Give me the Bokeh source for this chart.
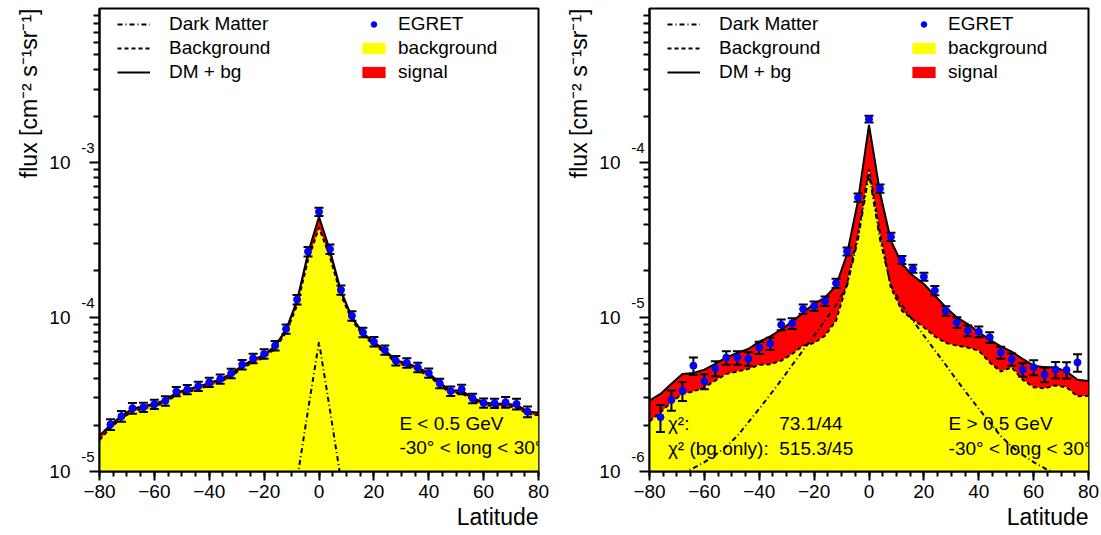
from bokeh.plotting import figure
from bokeh.layouts import row
from bokeh.models import (ColumnDataSource, Label, Legend, LegendItem, FixedTicker,
                          Range1d, CustomJSTickFormatter, LogAxis, Title)
from bokeh.embed import file_html
from bokeh.resources import INLINE

FONT = "Liberation Sans"

# ---------------- data ----------------
model_lat = list(range(-80, 81, 4))      # 41 model sample latitudes
egret_lat = list(range(-76, 77, 4))      # 39 EGRET data latitudes
x_ticks = [-80, -60, -40, -20, 0, 20, 40, 60, 80]

# Left panel: E < 0.5 GeV
left_egret = [2.02e-5, 2.28e-5, 2.57e-5, 2.61e-5, 2.73e-5, 2.87e-5, 3.30e-5, 3.40e-5,
              3.57e-5, 3.79e-5, 3.98e-5, 4.33e-5, 4.93e-5, 5.41e-5, 5.78e-5, 6.54e-5,
              8.39e-5, 1.30e-4, 2.66e-4, 4.82e-4, 2.76e-4, 1.50e-4, 1.02e-4, 7.98e-5,
              6.94e-5, 6.13e-5, 5.23e-5, 5.06e-5, 4.73e-5, 4.35e-5, 3.73e-5, 3.32e-5,
              3.41e-5, 2.98e-5, 2.78e-5, 2.77e-5, 2.81e-5, 2.74e-5, 2.44e-5]
left_err = [0.08, 0.08, 0.08, 0.07, 0.07, 0.07, 0.07, 0.07, 0.07, 0.07, 0.07, 0.07, 0.07,
            0.07, 0.07, 0.07, 0.07, 0.07, 0.07, 0.06, 0.07, 0.07, 0.07, 0.07, 0.07, 0.07,
            0.07, 0.07, 0.07, 0.07, 0.07, 0.07, 0.07, 0.07, 0.07, 0.07, 0.08, 0.08, 0.08]
left_total = [1.71e-5, 2.00e-5, 2.30e-5, 2.55e-5, 2.65e-5, 2.75e-5, 2.90e-5, 3.25e-5,
              3.40e-5, 3.55e-5, 3.75e-5, 3.95e-5, 4.30e-5, 4.85e-5, 5.30e-5, 5.70e-5,
              6.50e-5, 8.30e-5, 1.28e-4, 2.60e-4, 4.47e-4, 2.70e-4, 1.48e-4, 1.00e-4,
              7.90e-5, 6.90e-5, 6.10e-5, 5.25e-5, 5.05e-5, 4.70e-5, 4.35e-5, 3.75e-5,
              3.35e-5, 3.35e-5, 3.00e-5, 2.80e-5, 2.75e-5, 2.75e-5, 2.70e-5, 2.45e-5, 2.40e-5]
left_bg = [1.60e-5, 1.92e-5, 2.21e-5, 2.45e-5, 2.55e-5, 2.65e-5, 2.79e-5, 3.13e-5,
           3.27e-5, 3.42e-5, 3.61e-5, 3.80e-5, 4.14e-5, 4.67e-5, 5.10e-5, 5.48e-5,
           6.25e-5, 7.95e-5, 1.19e-4, 2.35e-4, 3.80e-4, 2.45e-4, 1.39e-4, 9.60e-5,
           7.60e-5, 6.64e-5, 5.87e-5, 5.05e-5, 4.86e-5, 4.52e-5, 4.19e-5, 3.61e-5,
           3.22e-5, 3.22e-5, 2.89e-5, 2.70e-5, 2.65e-5, 2.65e-5, 2.60e-5, 2.36e-5, 2.31e-5]
left_dm_lat = [-12, -8, -4, 0, 4, 8, 12]
left_dm = [3.2e-6, 8.8e-6, 2.5e-5, 6.9e-5, 2.5e-5, 8.8e-6, 3.2e-6]
left_yticks = [1e-5, 1e-4, 1e-3]
left_exps = ["-5", "-4", "-3"]

# Right panel: E > 0.5 GeV
right_egret = [2.25e-6, 2.91e-6, 3.33e-6, 4.85e-6, 3.84e-6, 4.66e-6, 5.47e-6, 5.47e-6,
               5.38e-6, 6.35e-6, 6.74e-6, 8.93e-6, 9.12e-6, 1.13e-5, 1.18e-5, 1.27e-5,
               1.66e-5, 2.67e-5, 5.96e-5, 1.92e-4, 6.82e-5, 3.32e-5, 2.35e-5, 2.06e-5,
               1.83e-5, 1.49e-5, 1.10e-5, 9.25e-6, 8.18e-6, 8.05e-6, 7.40e-6, 5.91e-6,
               5.33e-6, 4.57e-6, 4.73e-6, 4.25e-6, 4.57e-6, 4.55e-6, 5.09e-6]
right_err = [0.20, 0.15, 0.14, 0.13, 0.11, 0.11, 0.10, 0.10, 0.10, 0.09, 0.09, 0.08, 0.08,
             0.07, 0.07, 0.07, 0.07, 0.06, 0.06, 0.05, 0.06, 0.06, 0.06, 0.06, 0.06, 0.07,
             0.07, 0.08, 0.08, 0.08, 0.08, 0.09, 0.09, 0.10, 0.11, 0.11, 0.12, 0.12, 0.13]
right_total = [2.88e-6, 3.18e-6, 3.70e-6, 4.29e-6, 4.35e-6, 4.57e-6, 4.98e-6, 5.49e-6,
               5.86e-6, 6.22e-6, 6.94e-6, 7.51e-6, 8.30e-6, 9.35e-6, 1.07e-5, 1.22e-5,
               1.34e-5, 1.60e-5, 2.56e-5, 5.68e-5, 1.76e-4, 6.43e-5, 3.13e-5, 2.21e-5,
               1.86e-5, 1.64e-5, 1.38e-5, 1.16e-5, 9.97e-6, 9.03e-6, 7.98e-6, 7.15e-6,
               6.47e-6, 5.98e-6, 5.36e-6, 4.85e-6, 4.73e-6, 4.73e-6, 4.44e-6, 3.93e-6, 3.86e-6]
right_bg = [2.11e-6, 2.42e-6, 2.81e-6, 3.18e-6, 3.30e-6, 3.51e-6, 3.88e-6, 4.29e-6,
            4.44e-6, 4.62e-6, 4.91e-6, 4.95e-6, 5.22e-6, 5.78e-6, 6.54e-6, 6.80e-6,
            7.60e-6, 9.50e-6, 1.65e-5, 3.40e-5, 9.10e-5, 3.50e-5, 1.55e-5, 1.10e-5,
            9.63e-6, 8.60e-6, 7.51e-6, 6.81e-6, 6.54e-6, 6.35e-6, 6.07e-6, 5.09e-6,
            4.44e-6, 4.73e-6, 3.94e-6, 3.51e-6, 3.46e-6, 3.61e-6, 3.51e-6, 3.07e-6, 3.10e-6]
right_dm = [7.8e-7, 8.4e-7, 9.0e-7, 9.7e-7, 1.05e-6, 1.15e-6, 1.28e-6, 1.45e-6,
            1.70e-6, 2.08e-6, 2.55e-6, 3.15e-6, 3.90e-6, 4.90e-6, 6.10e-6, 7.60e-6,
            9.50e-6, 1.20e-5, 1.60e-5, 3.20e-5, 8.50e-5, 3.20e-5, 1.60e-5, 1.20e-5,
            9.50e-6, 7.60e-6, 6.10e-6, 4.90e-6, 3.90e-6, 3.15e-6, 2.55e-6, 2.08e-6,
            1.70e-6, 1.45e-6, 1.28e-6, 1.15e-6, 1.05e-6, 9.7e-7, 9.0e-7, 8.4e-7, 7.8e-7]
right_yticks = [1e-6, 1e-5, 1e-4]
right_exps = ["-6", "-5", "-4"]

Y_TITLE = "flux [cm\u207b\u00b2 s\u207b\u00b9sr\u207b\u00b9]"
X_TITLE = "Latitude"


def plain_axis(ax):
    ax.axis_line_color = None
    ax.major_tick_line_color = None
    ax.minor_tick_line_color = None
    ax.major_tick_in = 0
    ax.major_tick_out = 0
    ax.minor_tick_in = 0
    ax.minor_tick_out = 0
    ax.major_label_text_font = FONT
    ax.major_label_text_color = "black"


def make_panel(width, right_border, yrange, yticks, exps, egret, err, total, bg,
               dm_lat, dm, texts):
    ymin, ymax = yrange
    p = figure(width=width, height=535, x_range=Range1d(-80, 80),
               y_range=Range1d(ymin, ymax), y_axis_type="log",
               output_backend="svg", toolbar_location=None,
               min_border_left=99, min_border_right=right_border,
               min_border_top=8, min_border_bottom=64)
    p.grid.visible = False
    p.outline_line_color = "black"
    p.outline_line_width = 2
    p.background_fill_color = "white"
    p.border_fill_color = "white"

    # fills
    src = ColumnDataSource(dict(x=model_lat, total=total, bg=bg,
                                base=[ymin] * len(model_lat)))
    r_yel = p.varea(x="x", y1="base", y2="bg", source=src, fill_color="#ffff00")
    r_red = p.varea(x="x", y1="bg", y2="total", source=src, fill_color="#ff0000")
    # curves
    r_dm = p.line(dm_lat, dm, line_color="black", line_width=2, line_dash="5 3 1 3")
    r_bg = p.line("x", "bg", source=src, line_color="black", line_width=2,
                  line_dash="4 3")
    r_tot = p.line("x", "total", source=src, line_color="black", line_width=2)

    # EGRET points with error bars
    up = [v * (1 + e) for v, e in zip(egret, err)]
    lo = [v * (1 - e) for v, e in zip(egret, err)]
    esrc = ColumnDataSource(dict(x=egret_lat, y=egret, up=up, lo=lo))
    p.segment(x0="x", y0="lo", x1="x", y1="up", source=esrc, line_color="black",
              line_width=2)
    p.scatter(x="x", y="up", source=esrc, marker="dash", size=9, line_color="black",
              line_width=2)
    p.scatter(x="x", y="lo", source=esrc, marker="dash", size=9, line_color="black",
              line_width=2)
    r_pts = p.scatter(x="x", y="y", source=esrc, size=7, fill_color="#0000ff",
                      line_color="#0000ff")

    # x axis
    xa = p.xaxis[0]
    xa.ticker = FixedTicker(ticks=x_ticks, minor_ticks=list(range(-80, 81, 5)))
    xa.major_tick_in = 0
    xa.major_tick_out = 9
    xa.minor_tick_in = 0
    xa.minor_tick_out = 5
    xa.axis_line_width = 2
    xa.major_tick_line_width = 2
    xa.minor_tick_line_width = 2
    xa.major_label_text_font = FONT
    xa.major_label_text_font_size = "19px"
    xa.major_label_text_color = "black"
    xa.major_label_standoff = 4

    # y axis (real ticks, no labels)
    ya = p.yaxis[0]
    minor = []
    for t in yticks + [yticks[-1] * 10]:
        minor += [t * k / 10 for k in range(2, 10)]
    ya.ticker = FixedTicker(ticks=yticks, minor_ticks=minor)
    ya.formatter = CustomJSTickFormatter(code="return ''")
    ya.major_tick_in = 0
    ya.major_tick_out = 10
    ya.minor_tick_in = 0
    ya.minor_tick_out = 6
    ya.axis_line_width = 2
    ya.major_tick_line_width = 2
    ya.minor_tick_line_width = 2
    ya.major_label_standoff = 0

    # exponent labels (raised above each decade tick)
    raised = [t * 1.24 for t in yticks]
    ea = LogAxis(ticker=FixedTicker(ticks=raised, minor_ticks=[]),
                 formatter=CustomJSTickFormatter(
                     args=dict(pos=raised, labs=exps),
                     code="""
                     for (let i = 0; i < pos.length; i++) {
                       if (Math.abs(Math.log10(tick / pos[i])) < 0.01) return labs[i];
                     }
                     return '';"""))
    plain_axis(ea)
    ea.major_label_text_font_size = "15px"
    ea.major_label_standoff = -5
    p.add_layout(ea, "left")

    # mantissa labels "10"
    ma = LogAxis(ticker=FixedTicker(ticks=yticks, minor_ticks=[]),
                 formatter=CustomJSTickFormatter(code="return '10'"))
    plain_axis(ma)
    ma.major_label_text_font_size = "19px"
    ma.major_label_standoff = 8
    p.add_layout(ma, "left")

    # axis titles
    p.add_layout(Title(text=Y_TITLE, align="right", text_font=FONT,
                       text_font_size="23px", text_font_style="normal",
                       text_color="black", standoff=10), "left")
    p.add_layout(Title(text=X_TITLE, align="right", text_font=FONT,
                       text_font_size="23px", text_font_style="normal",
                       text_color="black", standoff=2), "below")

    # in-plot texts
    for (tx, ty, s) in texts:
        p.add_layout(Label(x=tx, y=ty, text=s, text_font=FONT, text_font_size="19px",
                           text_align="left", text_baseline="middle",
                           text_color="black"))

    # legends
    leg1 = Legend(items=[LegendItem(label="Dark Matter", renderers=[r_dm]),
                         LegendItem(label="Background", renderers=[r_bg]),
                         LegendItem(label="DM + bg", renderers=[r_tot])],
                  location=(18, 388), glyph_width=33, glyph_height=14,
                  label_standoff=19)
    leg2 = Legend(items=[LegendItem(label="EGRET", renderers=[r_pts]),
                         LegendItem(label="background", renderers=[r_yel]),
                         LegendItem(label="signal", renderers=[r_red])],
                  location=(260, 388), glyph_width=29, glyph_height=14,
                  label_standoff=10)
    for lg in (leg1, leg2):
        lg.border_line_color = None
        lg.background_fill_alpha = 0
        lg.label_text_font = FONT
        lg.label_text_font_size = "19px"
        lg.label_text_color = "black"
        lg.padding = 0
        lg.margin = 0
        lg.spacing = 2
        lg.label_height = 22
        p.add_layout(lg)
    return p


left_texts = [(29.3, 2.04e-5, "E < 0.5 GeV"),
              (29.3, 1.44e-5, "-30\u00b0 < long < 30\u00b0")]
right_texts = [(-73.3, 2.04e-6, "\u03c7\u00b2:"),
               (-32.7, 2.04e-6, "73.1/44"),
               (-73.3, 1.40e-6, "\u03c7\u00b2 (bg only):"),
               (-32.7, 1.40e-6, "515.3/45"),
               (29.0, 2.04e-6, "E > 0.5 GeV"),
               (29.0, 1.40e-6, "-30\u00b0 < long < 30\u00b0")]

p1 = make_panel(550, 12, (1e-5, 1e-2), left_yticks, left_exps, left_egret, left_err,
                left_total, left_bg, left_dm_lat, left_dm, left_texts)
p2 = make_panel(551, 13, (1e-6, 1e-3), right_yticks, right_exps, right_egret, right_err,
                right_total, right_bg, model_lat, right_dm, right_texts)

layout = row(p1, p2)
open("out.html", "w").write(file_html(layout, INLINE))
